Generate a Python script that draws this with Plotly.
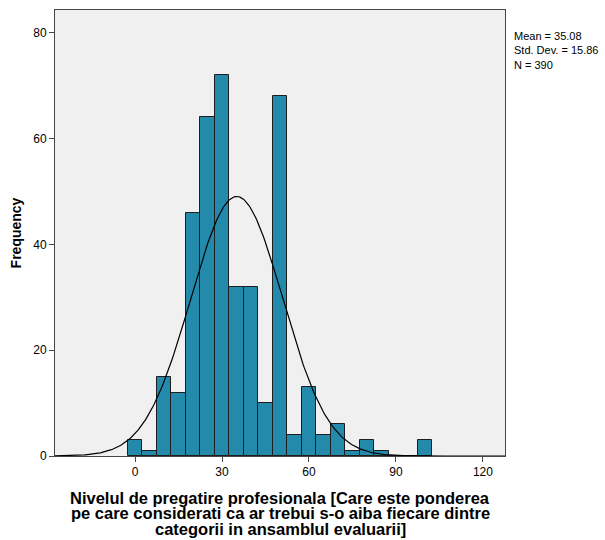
import numpy as np
import plotly.graph_objects as go

bin_centers = [0, 5, 10, 15, 20, 25, 30, 35, 40, 45, 50, 55, 60, 65, 70, 75, 80, 85, 90, 95, 100]
counts = [3, 1, 15, 12, 46, 64, 72, 32, 32, 10, 68, 4, 13, 4, 6, 1, 3, 1, 0, 0, 3]
bin_width = 5
mean = 35.08
std = 15.86
n = 390
x_ticks = [0, 30, 60, 90, 120]
y_ticks = [0, 20, 40, 60, 80]
x_title_lines = [
    "Nivelul de pregatire profesionala [Care este ponderea",
    "pe care considerati ca ar trebui s-o aiba fiecare dintre",
    "categorii in ansamblul evaluarii]",
]

fig = go.Figure()
fig.add_trace(go.Bar(
    x=bin_centers, y=counts, width=bin_width,
    marker=dict(color="rgb(35,138,172)", line=dict(color="rgb(30,30,30)", width=1)),
    hoverinfo="x+y",
))
xs = np.linspace(-27.6, 127.6, 400)
ys = n * bin_width / (std * np.sqrt(2 * np.pi)) * np.exp(-0.5 * ((xs - mean) / std) ** 2)
fig.add_trace(go.Scatter(x=xs, y=ys, mode="lines", line=dict(color="black", width=1.2)))

plot_top, plot_bottom = 10, 456
plot_h = plot_bottom - plot_top
annotations = [dict(
    text="Mean = 35.08<br>Std. Dev. = 15.86<br>N = 390",
    xref="paper", yref="paper", x=1.015, y=0.96, xanchor="left", yanchor="top",
    showarrow=False, align="left", font=dict(size=11),
)]
for i, line in enumerate(x_title_lines):
    ypix = 498 + i * 15.3
    annotations.append(dict(
        text="<b>" + line + "</b>", xref="paper", yref="paper",
        x=0.5, y=(plot_bottom - ypix) / plot_h, xanchor="center", yanchor="middle",
        showarrow=False, font=dict(size=16.5),
    ))

fig.update_layout(
    width=605, height=540,
    margin=dict(l=55, r=100, t=plot_top, b=540 - plot_bottom),
    paper_bgcolor="white", plot_bgcolor="rgb(240,240,240)",
    showlegend=False, bargap=0,
    font=dict(family="Liberation Sans, Arial, sans-serif", size=12, color="black"),
    annotations=annotations,
)
fig.update_xaxes(
    range=[-27.6, 127.6], tickvals=x_ticks, ticks="outside", ticklen=5,
    showgrid=False, zeroline=False, showline=True, linecolor="rgb(70,70,70)", mirror=True,
    tickcolor="rgb(70,70,70)",
)
fig.update_yaxes(
    range=[0, 84.3], tickvals=y_ticks, ticks="outside", ticklen=5,
    showgrid=False, zeroline=False, showline=True, linecolor="rgb(70,70,70)", mirror=True,
    tickcolor="rgb(70,70,70)",
    title=dict(text="<b>Frequency</b>", font=dict(size=14), standoff=8),
)
fig.write_html("out.html")
